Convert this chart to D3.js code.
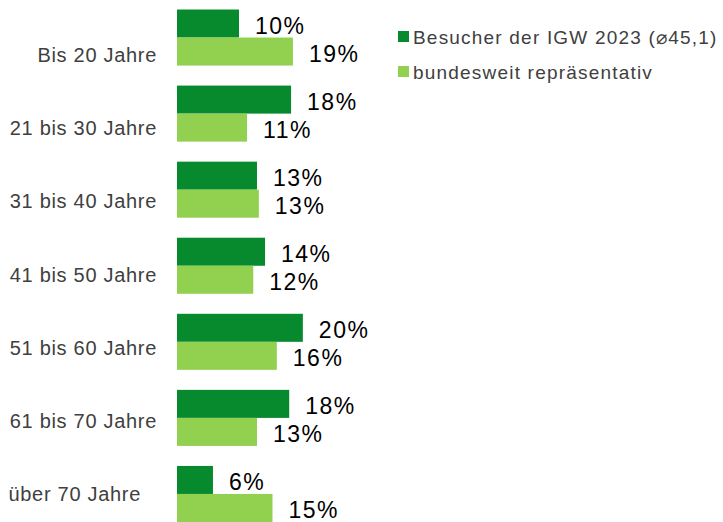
<!DOCTYPE html>
<html>
<head>
<meta charset="utf-8">
<script src="https://cdn.jsdelivr.net/npm/d3@7"></script>
<style>
  body { margin: 0; background: #fff; }
  text { font-family: "Liberation Sans", Arial, sans-serif; }
</style>
</head>
<body>
<div id="chart"></div>
<script>
const categories = ['Bis 20 Jahre', '21 bis 30 Jahre', '31 bis 40 Jahre', '41 bis 50 Jahre',
    '51 bis 60 Jahre', '61 bis 70 Jahre', 'über 70 Jahre'];
const seriesNames = ['Besucher der IGW 2023 (⌀45,1)', 'bundesweit repräsentativ'];
const visitors = [10.0, 18.4, 12.9, 14.2, 20.3, 18.1, 5.8];
const national = [18.7, 11.3, 13.2, 12.3, 16.1, 12.9, 15.4];
const colors = ['#078A2E', '#92D050'];

const W = 723, H = 522;
const svg = d3.select('#chart').append('svg')
    .attr('width', W)
    .attr('height', H);

const x = d3.scaleLinear().domain([0, 20]).range([177, 301]);

const y = d3.scaleBand()
    .domain(categories)
    .range([-0.5, 532])
    .paddingInner(20 / 76)
    .paddingOuter(10 / 76);

// labels sit on their own spacing in the original
const yLabel = d3.scalePoint().domain(categories).range([55, 494]);

const sub = d3.scaleBand().domain([0, 1]).range([0, y.bandwidth()]);

const rows = categories.map((c, i) => ({ cat: c, vals: [visitors[i], national[i]] }));

const groups = svg.append('g').selectAll('g')
    .data(rows)
    .join('g')
    .attr('transform', d => `translate(0,${y(d.cat)})`);

groups.selectAll('rect')
    .data(d => d.vals)
    .join('rect')
    .attr('x', x(0))
    .attr('y', (v, j) => sub(j))
    .attr('width', v => x(v) - x(0))
    .attr('height', sub.bandwidth())
    .attr('fill', (v, j) => colors[j]);

groups.selectAll('text.val')
    .data(d => d.vals)
    .join('text')
    .attr('class', 'val')
    .attr('x', v => x(v) + 16)
    .attr('y', (v, j) => sub(j) + sub.bandwidth() / 2 + 2)
    .attr('dominant-baseline', 'central')
    .attr('font-size', 23)
    .attr('letter-spacing', 1.5)
    .attr('fill', '#000')
    .text(v => Math.round(v) + '%');

// category axis labels (the last one is set a bit further left in the original)
const lastCat = categories[categories.length - 1];
svg.append('g').selectAll('text')
    .data(categories)
    .join('text')
    .attr('x', d => d === lastCat ? 141 : 157)
    .attr('y', d => yLabel(d))
    .attr('text-anchor', 'end')
    .attr('dominant-baseline', 'central')
    .attr('font-size', 20)
    .attr('letter-spacing', 0.7)
    .attr('fill', '#404040')
    .text(d => d);

// legend
const legend = svg.append('g').selectAll('g')
    .data(seriesNames)
    .join('g')
    .attr('transform', (d, i) => `translate(398,${37 + i * 35})`);

legend.append('rect')
    .attr('x', 0)
    .attr('y', -6)
    .attr('width', 11)
    .attr('height', 11)
    .attr('fill', (d, i) => colors[i]);

legend.append('text')
    .attr('x', 15)
    .attr('y', 0)
    .attr('dominant-baseline', 'central')
    .attr('font-size', 19)
    .attr('letter-spacing', 1.2)
    .attr('fill', '#404040')
    .text(d => d);
</script>
</body>
</html>
